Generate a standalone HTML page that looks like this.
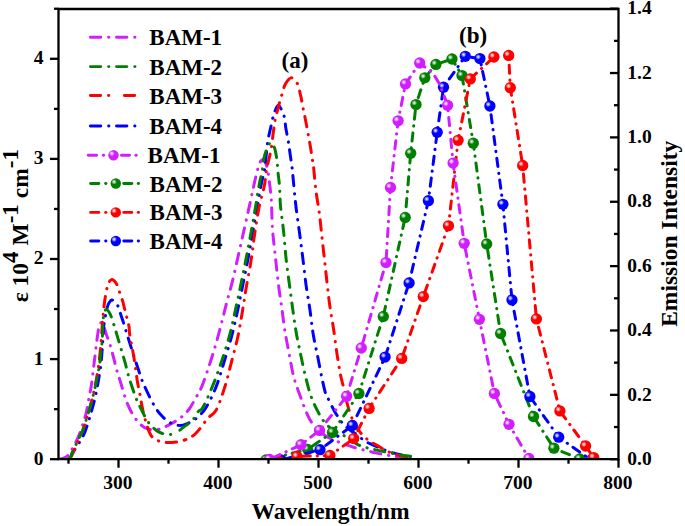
<!DOCTYPE html>
<html><head><meta charset="utf-8"><title>Absorption and emission spectra</title>
<style>html,body{margin:0;padding:0;background:#fff;}svg{display:block;}</style></head>
<body>
<svg width="685" height="526" viewBox="0 0 685 526">
<defs>
<clipPath id="pc"><rect x="58.5" y="9.0" width="560.0" height="450.2"/></clipPath>
<radialGradient id="hl" cx="0.5" cy="0.5" r="0.5"><stop offset="0" stop-color="#fff" stop-opacity="0.95"/><stop offset="0.35" stop-color="#fff" stop-opacity="0.7"/><stop offset="1" stop-color="#fff" stop-opacity="0"/></radialGradient>
</defs>
<rect width="685" height="526" fill="#fff"/>
<g clip-path="url(#pc)" fill="none" stroke-linejoin="round" stroke-linecap="round">
<path id="amag1" d="M58.50,459.40 C60.00,459.03 61.57,458.81 63.00,458.30 C64.40,457.80 65.81,457.36 67.00,456.40 C68.36,455.30 69.39,453.50 70.50,451.80 C71.74,449.90 72.82,447.74 74.00,445.50 C75.32,443.01 76.77,440.27 78.00,437.50 C79.28,434.62 80.42,431.56 81.50,428.50 C82.59,425.39 83.63,421.99 84.50,419.00 C85.27,416.36 85.85,414.38 86.50,411.50 C87.36,407.67 88.17,402.50 89.00,398.00 C89.83,393.50 90.70,389.68 91.50,384.50 C92.57,377.56 93.47,368.29 94.50,360.00 C95.56,351.46 96.67,340.72 97.80,334.00 C98.52,329.70 98.69,325.11 100.00,323.50 C100.63,322.72 101.65,322.22 102.30,322.50 C103.33,322.94 103.85,326.48 104.50,328.40 C105.11,330.20 105.42,331.64 106.10,333.70 C107.07,336.66 108.70,340.59 109.90,344.40 C111.25,348.66 112.52,353.66 113.70,358.10 C114.81,362.28 115.65,366.26 116.80,370.30 C117.95,374.36 119.34,378.28 120.60,382.40 C121.91,386.68 123.04,391.21 124.50,395.50 C125.94,399.74 127.37,404.02 129.30,408.00 C131.21,411.95 133.43,416.00 136.00,419.30 C138.38,422.37 141.26,425.58 144.00,427.30 C146.15,428.65 148.26,429.23 150.60,429.60 C153.11,429.99 155.74,430.05 158.60,429.40" stroke="#D21EFF" stroke-width="3.0" stroke-dasharray="10.4 7.8 0.3 7.6" stroke-dashoffset="0.10"/>
<path id="amag2" d="M158.60,429.40 C162.27,428.56 166.79,426.05 170.60,424.00 C174.32,422.00 178.05,419.87 181.20,417.30 C184.22,414.84 186.80,412.15 189.20,409.00 C191.78,405.61 194.00,400.93 196.00,397.50 C197.61,394.74 198.84,393.12 200.30,390.00 C202.50,385.32 204.82,378.38 207.10,371.80 C209.75,364.13 212.62,355.08 215.10,346.70 C217.55,338.38 219.89,329.39 221.90,321.70 C223.62,315.13 224.84,309.77 226.50,303.40 C228.32,296.40 230.48,289.14 232.40,281.40 C234.52,272.83 236.55,263.27 238.60,254.20 C240.65,245.14 242.77,235.62 244.70,227.00 C246.45,219.20 248.16,211.71 249.70,204.70 C251.07,198.46 252.19,192.83 253.50,187.00 C254.79,181.27 256.13,174.66 257.50,170.00 C258.48,166.65 259.22,163.16 260.50,161.50 C261.24,160.54 262.20,159.66 263.00,159.80" stroke="#D21EFF" stroke-width="3.0" stroke-dasharray="10.4 7.8 0.3 7.6" stroke-dashoffset="17.99"/>
<path id="amag3" d="M263.00,159.80 C264.05,159.99 265.19,162.20 266.00,164.00 C267.14,166.54 267.66,170.43 268.30,174.00 C269.03,178.03 269.50,182.66 270.00,187.00 C270.50,191.33 270.93,194.79 271.30,200.00 C271.85,207.80 271.81,219.86 272.50,229.30 C273.15,238.16 274.23,246.00 275.20,255.00 C276.28,264.97 277.53,277.38 278.70,286.50 C279.60,293.52 280.46,298.44 281.40,305.10 C282.48,312.82 283.47,321.77 284.80,330.10 C286.14,338.47 287.84,347.09 289.40,355.20 C290.87,362.86 292.03,370.55 293.90,377.50 C295.60,383.80 298.01,389.86 299.90,395.20 C301.48,399.66 302.76,403.37 304.40,407.40 C306.06,411.47 307.73,415.92 309.80,419.50 C311.65,422.69 313.56,425.39 316.00,428.00 C318.58,430.75 321.79,433.40 325.00,435.50 C328.13,437.55 331.63,438.99 335.00,440.50 C338.30,441.98 341.77,443.33 345.00,444.50 C347.96,445.57 350.43,446.37 353.60,447.30 C357.45,448.43 362.18,449.65 366.50,450.70 C370.81,451.75 375.17,452.71 379.50,453.60 C383.80,454.48 388.08,455.32 392.40,456.00 C396.72,456.68 401.79,457.22 405.40,457.70 C407.97,458.04 409.80,458.30 412.00,458.60" stroke="#D21EFF" stroke-width="3.0" stroke-dasharray="10.4 7.8 0.3 7.6" stroke-dashoffset="2.65"/>
<path id="ablu1" d="M68.50,459.40 C69.33,458.43 70.21,457.68 71.00,456.50 C72.00,455.01 72.66,452.96 73.80,451.00 C75.21,448.57 77.31,445.90 79.00,443.10 C80.82,440.09 82.80,436.84 84.30,433.50 C85.81,430.14 86.87,426.47 88.00,423.00 C89.10,419.64 89.99,416.56 91.00,413.00 C92.15,408.96 93.41,404.58 94.50,400.00 C95.70,394.96 96.79,389.50 97.80,384.00 C98.87,378.19 99.93,372.25 100.70,366.00 C101.53,359.28 101.95,352.01 102.50,345.00 C103.05,337.98 103.29,329.48 104.00,323.90 C104.47,320.19 105.00,317.88 105.70,314.70 C106.47,311.23 107.13,306.49 108.50,303.90 C109.43,302.13 110.59,300.08 111.90,300.00 C113.47,299.91 115.95,302.81 117.40,305.00 C119.16,307.66 119.94,312.22 121.00,315.30 C121.86,317.80 122.53,319.69 123.30,322.10 C124.16,324.79 124.94,327.59 125.90,330.70 C127.04,334.39 128.44,338.76 129.70,342.80 C130.97,346.86 132.15,350.82 133.50,355.00 C134.94,359.44 136.64,364.34 138.10,368.70 C139.43,372.67 140.46,376.41 141.90,380.10 C143.30,383.71 144.85,386.91 146.60,390.60 C148.60,394.81 150.86,399.87 153.30,404.00 C155.56,407.83 157.73,411.46 160.60,414.60 C163.49,417.76 167.13,421.08 170.60,422.90 C173.60,424.47 176.92,425.49 179.90,425.50 C182.67,425.51 185.35,424.33 187.90,423.30" stroke="#0000FF" stroke-width="3.0" stroke-dasharray="10.4 7.8 0.3 7.6" stroke-dashoffset="24.31"/>
<path id="ablu2" d="M187.90,423.30 C190.45,422.27 192.74,421.17 195.20,419.30 C198.36,416.89 201.77,413.67 204.80,409.40 C208.92,403.59 212.98,394.51 216.20,386.60 C219.47,378.56 221.58,370.06 224.20,361.50 C226.92,352.61 229.88,343.14 232.20,334.20 C234.41,325.69 236.10,317.48 237.90,309.10 C239.70,300.74 241.31,292.36 243.00,284.00 C244.68,275.66 246.42,267.38 248.00,259.00 C249.59,250.55 250.96,242.24 252.50,233.50 C254.13,224.26 255.91,213.88 257.50,205.00 C258.89,197.19 260.19,189.36 261.50,183.00 C262.51,178.09 263.60,175.21 264.50,170.00 C265.82,162.33 266.55,149.03 267.80,141.30 C268.66,136.00 269.63,132.35 270.60,128.00 C271.54,123.79 272.17,119.46 273.50,115.60 C274.75,111.99 276.49,105.57 278.20,105.50" stroke="#0000FF" stroke-width="3.0" stroke-dasharray="10.4 7.8 0.3 7.6" stroke-dashoffset="9.22"/>
<path id="ablu3" d="M278.20,105.50 C279.95,105.43 282.63,111.94 283.90,115.60 C285.22,119.41 285.08,123.80 285.80,128.00 C286.54,132.36 287.57,136.86 288.30,141.30 C289.03,145.73 289.57,150.18 290.20,154.60 C290.83,159.01 291.56,163.29 292.10,167.80 C292.67,172.51 292.96,176.83 293.50,182.30 C294.21,189.44 295.00,198.58 296.00,207.00 C297.05,215.86 298.52,225.35 299.70,234.20 C300.82,242.63 301.86,250.58 302.90,258.90 C303.96,267.38 304.83,276.10 306.00,284.60 C307.16,293.00 308.68,301.25 309.90,309.60 C311.12,317.95 311.93,326.56 313.30,334.70 C314.61,342.50 316.38,349.90 317.90,357.50 C319.42,365.10 320.93,373.68 322.40,380.30 C323.55,385.46 324.59,390.77 325.80,394.00 C326.51,395.89 327.09,396.50 328.00,398.30 C329.53,401.31 332.14,406.87 334.10,410.40 C335.68,413.26 337.12,415.64 338.70,418.00 C340.16,420.18 341.42,422.18 343.20,424.10 C345.14,426.20 347.65,428.20 350.00,430.00 C352.29,431.76 354.77,433.07 357.10,434.80 C359.51,436.59 361.75,439.00 364.20,440.60 C366.47,442.08 368.74,443.05 371.20,444.20 C373.83,445.43 376.75,446.51 379.50,447.70 C382.25,448.88 384.75,450.26 387.70,451.30 C390.97,452.46 394.97,453.38 398.30,454.20 C401.23,454.92 403.86,455.46 406.60,456.00 C409.26,456.52 411.87,456.93 414.50,457.40" stroke="#0000FF" stroke-width="3.0" stroke-dasharray="10.4 7.8 0.3 7.6" stroke-dashoffset="5.80"/>
<path id="ared1" d="M68.50,459.40 C69.33,458.43 70.27,457.60 71.00,456.50 C71.79,455.32 72.25,454.05 73.00,452.50 C74.02,450.40 75.35,447.55 76.50,445.00 C77.68,442.38 78.85,439.71 80.00,437.00 C81.18,434.22 82.43,431.44 83.50,428.50 C84.61,425.44 85.51,422.21 86.50,419.00 C87.51,415.71 88.53,412.46 89.50,409.00 C90.53,405.31 91.54,401.50 92.50,397.50 C93.54,393.19 94.56,388.84 95.50,384.00 C96.58,378.44 97.64,372.24 98.50,366.00 C99.43,359.28 100.12,352.45 100.80,345.00 C101.57,336.57 102.17,325.16 102.80,318.00 C103.22,313.26 103.58,309.75 104.00,306.20 C104.35,303.27 104.66,300.96 105.10,298.20 C105.58,295.21 106.11,291.69 106.80,288.90 C107.38,286.55 107.78,284.12 108.80,282.50 C109.61,281.21 110.78,279.64 111.90,279.60 C113.13,279.55 114.78,281.28 115.90,282.80 C117.41,284.84 118.19,288.40 119.30,291.40 C120.50,294.64 121.89,298.51 122.80,301.60 C123.54,304.11 123.89,306.08 124.50,308.50 C125.18,311.19 125.98,314.12 126.70,317.00 C127.45,319.98 128.40,323.11 128.90,326.10 C129.38,328.94 129.24,331.26 129.70,334.50 C130.33,338.99 131.79,345.37 132.70,350.50 C133.54,355.24 134.27,359.40 135.00,364.20 C135.81,369.49 136.42,375.62 137.30,380.90 C138.10,385.70 139.19,390.24 140.00,394.60 C140.74,398.57 141.18,402.02 142.00,406.00 C142.91,410.42 143.79,415.11 145.30,419.90 C146.99,425.27 148.91,433.02 151.90,436.60 C153.98,439.10 156.37,440.20 159.30,441.20 C162.83,442.41 167.66,442.69 171.90,442.50 C176.29,442.30 181.27,441.36 185.20,439.90" stroke="#FF0000" stroke-width="3.0" stroke-dasharray="10.4 7.8 0.3 7.6" stroke-dashoffset="24.36"/>
<path id="ared2" d="M185.20,439.90 C188.70,438.60 191.73,436.86 194.50,434.60 C197.36,432.26 199.69,428.86 202.00,426.00 C204.16,423.33 205.78,420.41 208.00,418.00 C210.16,415.65 212.92,414.81 215.10,411.70 C218.61,406.70 221.58,396.76 224.20,388.90 C226.90,380.81 228.76,372.35 231.00,363.80 C233.33,354.90 235.97,345.44 237.90,336.50 C239.74,327.99 241.02,319.55 242.40,311.40 C243.71,303.68 244.66,296.67 246.00,288.80 C247.47,280.15 249.46,270.68 250.90,261.60 C252.33,252.55 253.19,243.65 254.60,234.40 C256.07,224.71 257.76,213.56 259.60,204.70 C261.11,197.43 263.33,191.15 264.50,185.00 C265.51,179.69 265.71,174.48 266.50,170.00 C267.15,166.31 267.95,163.33 268.70,160.00 C269.45,156.66 270.30,153.89 271.00,150.00 C271.96,144.65 272.69,136.49 273.50,130.80 C274.15,126.24 274.58,122.42 275.40,118.50 C276.17,114.84 277.37,111.22 278.20,108.00 C278.91,105.27 279.38,102.95 280.10,100.40 C280.84,97.78 281.73,95.18 282.60,92.50 C283.50,89.72 283.95,86.48 285.40,84.00 C286.81,81.60 289.13,77.94 291.10,77.80" stroke="#FF0000" stroke-width="3.0" stroke-dasharray="10.4 7.8 0.3 7.6" stroke-dashoffset="17.77"/>
<path id="ared3" d="M291.10,77.80 C292.94,77.67 295.31,80.24 296.80,82.50 C298.81,85.54 299.55,91.07 300.60,95.40 C301.64,99.68 302.23,103.94 303.10,108.30 C304.00,112.80 305.03,117.55 305.90,122.00 C306.72,126.21 307.43,130.05 308.20,134.30 C309.03,138.86 309.97,144.02 310.70,148.50 C311.35,152.50 311.90,156.88 312.40,159.90 C312.73,161.91 312.98,162.59 313.30,164.90 C314.02,170.01 314.77,181.45 315.80,189.70 C316.83,197.95 318.47,206.37 319.50,214.40 C320.48,222.01 321.08,229.28 321.90,236.70 C322.72,244.11 323.56,251.40 324.40,258.90 C325.26,266.60 326.11,274.55 327.00,282.30 C327.88,289.95 328.64,297.51 329.70,305.10 C330.77,312.71 332.20,319.95 333.40,327.90 C334.71,336.58 335.89,346.76 337.20,355.20 C338.34,362.53 339.42,369.57 340.70,375.70 C341.76,380.75 342.97,384.61 344.10,389.40 C345.34,394.64 346.20,400.44 347.80,405.90 C349.44,411.50 351.37,417.68 353.90,422.60 C356.14,426.97 359.04,431.04 361.80,434.20 C364.08,436.81 366.35,438.73 368.90,440.60 C371.45,442.46 374.46,443.87 377.10,445.40 C379.55,446.82 381.81,448.22 384.20,449.50 C386.55,450.75 388.64,451.98 391.30,453.00 C394.45,454.21 398.31,455.21 402.00,456.00 C405.86,456.83 410.00,457.20 414.00,457.80" stroke="#FF0000" stroke-width="3.0" stroke-dasharray="10.4 7.8 0.3 7.6" stroke-dashoffset="9.55"/>
<path id="agrn1" d="M68.50,459.40 C69.30,458.43 70.32,457.59 70.90,456.50 C71.49,455.39 71.45,454.20 72.00,452.80 C72.79,450.81 74.40,448.13 75.50,445.80 C76.57,443.53 77.40,441.35 78.50,439.00 C79.71,436.41 81.34,433.70 82.50,430.90 C83.68,428.04 84.53,424.98 85.50,422.00 C86.47,419.01 87.38,416.00 88.30,413.00 C89.22,410.00 90.11,407.23 91.00,404.00 C92.02,400.30 93.07,395.92 94.00,392.00 C94.89,388.26 95.70,384.83 96.50,381.00 C97.37,376.85 98.28,372.57 99.00,368.00 C99.80,362.96 100.44,356.95 101.00,352.00 C101.48,347.72 101.88,344.41 102.20,340.00 C102.59,334.61 102.59,326.79 103.00,322.00 C103.27,318.79 103.45,316.21 104.00,314.00 C104.41,312.35 104.78,310.22 105.60,309.80 C106.19,309.50 107.12,309.89 107.80,310.40 C108.82,311.17 109.66,313.01 110.50,314.80 C111.65,317.24 112.66,321.02 113.60,323.90 C114.44,326.49 115.21,329.01 115.90,331.30 C116.49,333.27 116.85,334.58 117.50,336.80 C118.49,340.20 120.03,345.40 121.30,349.70 C122.57,354.00 123.93,358.35 125.10,362.60 C126.23,366.71 127.05,370.78 128.20,374.80 C129.35,378.81 130.64,382.66 132.00,386.70 C133.43,390.95 134.94,395.74 136.60,399.70 C138.07,403.19 139.52,405.86 141.30,409.30 C143.43,413.40 145.61,418.76 148.60,422.60 C151.43,426.24 155.06,429.92 158.60,431.90 C161.59,433.57 165.08,434.31 168.00,434.50 C170.49,434.66 172.73,434.43 175.00,433.50" stroke="#008000" stroke-width="3.0" stroke-dasharray="10.4 7.8 0.3 7.6" stroke-dashoffset="1.30"/>
<path id="agrn2" d="M175.00,433.50 C177.62,432.43 179.88,430.00 182.60,427.90 C185.87,425.37 190.44,422.34 193.20,419.30 C195.51,416.75 196.83,412.96 198.50,411.30 C199.50,410.30 200.32,410.63 201.40,409.40 C204.37,406.00 209.39,393.65 212.80,385.50 C216.23,377.32 219.07,368.89 221.90,360.40 C224.77,351.80 227.59,342.88 229.90,334.20 C232.14,325.78 233.75,317.48 235.60,309.10 C237.45,300.71 239.26,292.27 241.00,283.90 C242.72,275.61 244.37,267.46 246.00,259.10 C247.67,250.57 249.29,242.05 250.90,233.20 C252.59,223.93 254.38,213.61 255.90,204.70 C257.24,196.84 258.41,188.52 259.60,182.50 C260.42,178.34 261.30,175.77 262.00,172.00 C262.80,167.68 263.07,162.12 264.00,158.00 C264.76,154.64 265.71,151.59 266.80,149.00 C267.69,146.89 268.54,143.80 269.80,143.50" stroke="#008000" stroke-width="3.0" stroke-dasharray="10.4 7.8 0.3 7.6" stroke-dashoffset="20.15"/>
<path id="agrn3" d="M269.80,143.50 C270.88,143.24 272.59,144.67 273.60,146.10 C275.19,148.34 275.78,153.02 276.50,157.00 C277.34,161.66 277.48,167.43 278.00,172.40 C278.49,177.08 279.11,181.11 279.50,186.00 C279.95,191.69 279.84,197.75 280.40,204.50 C281.08,212.71 282.65,222.63 283.60,231.70 C284.55,240.76 285.12,250.05 286.10,258.90 C287.03,267.37 288.20,275.35 289.30,283.70 C290.43,292.24 291.61,301.25 292.80,309.60 C293.92,317.45 294.87,324.82 296.20,332.40 C297.54,340.02 299.24,347.81 300.80,355.20 C302.28,362.22 303.61,368.89 305.30,375.70 C307.00,382.56 308.72,389.90 311.00,396.20 C313.06,401.87 315.67,407.33 318.10,411.90 C320.09,415.65 321.74,418.80 324.20,421.80 C326.70,424.85 329.68,427.67 333.00,430.00 C336.47,432.44 340.71,433.70 344.70,436.00 C349.13,438.56 353.92,442.70 358.30,444.80 C361.94,446.54 365.34,447.33 368.90,448.30 C372.41,449.26 376.48,449.97 379.50,450.60 C381.75,451.07 383.15,451.32 385.40,451.80 C388.42,452.45 392.45,453.53 396.00,454.20 C399.52,454.86 403.27,455.39 406.60,455.80 C409.56,456.16 412.20,456.33 415.00,456.60" stroke="#008000" stroke-width="3.0" stroke-dasharray="10.4 7.8 0.3 7.6" stroke-dashoffset="19.95"/>
<path id="egrn1" d="M266.00,460.00 L307.60,449.30 L332.50,432.40 L358.90,393.50 L383.30,316.40 L405.20,217.40 L410.70,153.30 L416.00,104.60 L424.80,77.80 L435.90,64.40 L452.00,59.00" stroke="#008000" stroke-width="3.0" stroke-dasharray="8.2 6.8 0.3 6.7" stroke-dashoffset="17.00"/>
<path id="egrn2" d="M452.00,59.00 L462.00,75.60 L473.30,143.20 L486.70,244.00 L500.60,333.50 L533.50,416.50 L553.90,448.20 L579.80,459.00" stroke="#008000" stroke-width="3.0" stroke-dasharray="8.2 6.8 0.3 6.7" stroke-dashoffset="2.22"/>
<circle cx="266.0" cy="460.0" r="5.65" fill="#008000" stroke="none"/><circle cx="264.3" cy="458.3" r="2.8" fill="url(#hl)"/>
<circle cx="307.6" cy="449.3" r="5.65" fill="#008000" stroke="none"/><circle cx="305.9" cy="447.6" r="2.8" fill="url(#hl)"/>
<circle cx="332.5" cy="432.4" r="5.65" fill="#008000" stroke="none"/><circle cx="330.8" cy="430.7" r="2.8" fill="url(#hl)"/>
<circle cx="358.9" cy="393.5" r="5.65" fill="#008000" stroke="none"/><circle cx="357.2" cy="391.8" r="2.8" fill="url(#hl)"/>
<circle cx="383.3" cy="316.4" r="5.65" fill="#008000" stroke="none"/><circle cx="381.6" cy="314.7" r="2.8" fill="url(#hl)"/>
<circle cx="405.2" cy="217.4" r="5.65" fill="#008000" stroke="none"/><circle cx="403.5" cy="215.7" r="2.8" fill="url(#hl)"/>
<circle cx="410.7" cy="153.3" r="5.65" fill="#008000" stroke="none"/><circle cx="409.0" cy="151.6" r="2.8" fill="url(#hl)"/>
<circle cx="416.0" cy="104.6" r="5.65" fill="#008000" stroke="none"/><circle cx="414.3" cy="102.9" r="2.8" fill="url(#hl)"/>
<circle cx="424.8" cy="77.8" r="5.65" fill="#008000" stroke="none"/><circle cx="423.1" cy="76.1" r="2.8" fill="url(#hl)"/>
<circle cx="435.9" cy="64.4" r="5.65" fill="#008000" stroke="none"/><circle cx="434.2" cy="62.7" r="2.8" fill="url(#hl)"/>
<circle cx="452.0" cy="59.0" r="5.65" fill="#008000" stroke="none"/><circle cx="450.3" cy="57.3" r="2.8" fill="url(#hl)"/>
<circle cx="462.0" cy="75.6" r="5.65" fill="#008000" stroke="none"/><circle cx="460.3" cy="73.9" r="2.8" fill="url(#hl)"/>
<circle cx="473.3" cy="143.2" r="5.65" fill="#008000" stroke="none"/><circle cx="471.6" cy="141.5" r="2.8" fill="url(#hl)"/>
<circle cx="486.7" cy="244.0" r="5.65" fill="#008000" stroke="none"/><circle cx="485.0" cy="242.3" r="2.8" fill="url(#hl)"/>
<circle cx="500.6" cy="333.5" r="5.65" fill="#008000" stroke="none"/><circle cx="498.9" cy="331.8" r="2.8" fill="url(#hl)"/>
<circle cx="533.5" cy="416.5" r="5.65" fill="#008000" stroke="none"/><circle cx="531.8" cy="414.8" r="2.8" fill="url(#hl)"/>
<circle cx="553.9" cy="448.2" r="5.65" fill="#008000" stroke="none"/><circle cx="552.2" cy="446.5" r="2.8" fill="url(#hl)"/>
<circle cx="579.8" cy="459.0" r="5.65" fill="#008000" stroke="none"/><circle cx="578.1" cy="457.3" r="2.8" fill="url(#hl)"/>
<path id="eblu1" d="M281.00,460.00 L320.00,449.70 L352.30,425.50 L385.10,357.10 L409.10,282.90 L428.40,200.70 L437.20,132.30 L443.50,87.20 L465.30,56.30" stroke="#0000FF" stroke-width="3.0" stroke-dasharray="8.2 6.8 0.3 6.7" stroke-dashoffset="18.44"/>
<path id="eblu2" d="M465.30,56.30 L479.90,58.60 L489.90,106.00 L502.90,204.30 L512.00,299.90 L529.90,396.50 L558.70,437.20 L591.00,460.00" stroke="#0000FF" stroke-width="3.0" stroke-dasharray="8.2 6.8 0.3 6.7" stroke-dashoffset="16.05"/>
<circle cx="281.0" cy="460.0" r="5.65" fill="#0000FF" stroke="none"/><circle cx="279.3" cy="458.3" r="2.8" fill="url(#hl)"/>
<circle cx="320.0" cy="449.7" r="5.65" fill="#0000FF" stroke="none"/><circle cx="318.3" cy="448.0" r="2.8" fill="url(#hl)"/>
<circle cx="352.3" cy="425.5" r="5.65" fill="#0000FF" stroke="none"/><circle cx="350.6" cy="423.8" r="2.8" fill="url(#hl)"/>
<circle cx="385.1" cy="357.1" r="5.65" fill="#0000FF" stroke="none"/><circle cx="383.4" cy="355.4" r="2.8" fill="url(#hl)"/>
<circle cx="409.1" cy="282.9" r="5.65" fill="#0000FF" stroke="none"/><circle cx="407.4" cy="281.2" r="2.8" fill="url(#hl)"/>
<circle cx="428.4" cy="200.7" r="5.65" fill="#0000FF" stroke="none"/><circle cx="426.7" cy="199.0" r="2.8" fill="url(#hl)"/>
<circle cx="437.2" cy="132.3" r="5.65" fill="#0000FF" stroke="none"/><circle cx="435.5" cy="130.6" r="2.8" fill="url(#hl)"/>
<circle cx="443.5" cy="87.2" r="5.65" fill="#0000FF" stroke="none"/><circle cx="441.8" cy="85.5" r="2.8" fill="url(#hl)"/>
<circle cx="465.3" cy="56.3" r="5.65" fill="#0000FF" stroke="none"/><circle cx="463.6" cy="54.6" r="2.8" fill="url(#hl)"/>
<circle cx="479.9" cy="58.6" r="5.65" fill="#0000FF" stroke="none"/><circle cx="478.2" cy="56.9" r="2.8" fill="url(#hl)"/>
<circle cx="489.9" cy="106.0" r="5.65" fill="#0000FF" stroke="none"/><circle cx="488.2" cy="104.3" r="2.8" fill="url(#hl)"/>
<circle cx="502.9" cy="204.3" r="5.65" fill="#0000FF" stroke="none"/><circle cx="501.2" cy="202.6" r="2.8" fill="url(#hl)"/>
<circle cx="512.0" cy="299.9" r="5.65" fill="#0000FF" stroke="none"/><circle cx="510.3" cy="298.2" r="2.8" fill="url(#hl)"/>
<circle cx="529.9" cy="396.5" r="5.65" fill="#0000FF" stroke="none"/><circle cx="528.2" cy="394.8" r="2.8" fill="url(#hl)"/>
<circle cx="558.7" cy="437.2" r="5.65" fill="#0000FF" stroke="none"/><circle cx="557.0" cy="435.5" r="2.8" fill="url(#hl)"/>
<circle cx="591.0" cy="460.0" r="5.65" fill="#0000FF" stroke="none"/><circle cx="589.3" cy="458.3" r="2.8" fill="url(#hl)"/>
<path id="ered1" d="M280.00,462.00 L297.00,456.50 L329.90,455.50 L353.70,438.60 L369.10,408.40 L401.70,358.40 L423.30,296.60 L448.50,225.80 L458.10,140.30 L470.30,78.90 L493.90,57.00" stroke="#FF0000" stroke-width="3.0" stroke-dasharray="8.2 6.8 0.3 6.7" stroke-dashoffset="21.00"/>
<path id="ered2" d="M508.70,55.40 L510.30,87.70 L522.70,165.50 L536.40,318.90 L559.90,410.90 L585.60,446.00 L593.70,457.60" stroke="#FF0000" stroke-width="3.0" stroke-dasharray="8.2 6.8 0.3 6.7" stroke-dashoffset="12.25"/>
<circle cx="280.0" cy="462.0" r="5.65" fill="#FF0000" stroke="none"/><circle cx="278.3" cy="460.3" r="2.8" fill="url(#hl)"/>
<circle cx="297.0" cy="456.5" r="5.65" fill="#FF0000" stroke="none"/><circle cx="295.3" cy="454.8" r="2.8" fill="url(#hl)"/>
<circle cx="329.9" cy="455.5" r="5.65" fill="#FF0000" stroke="none"/><circle cx="328.2" cy="453.8" r="2.8" fill="url(#hl)"/>
<circle cx="353.7" cy="438.6" r="5.65" fill="#FF0000" stroke="none"/><circle cx="352.0" cy="436.9" r="2.8" fill="url(#hl)"/>
<circle cx="369.1" cy="408.4" r="5.65" fill="#FF0000" stroke="none"/><circle cx="367.4" cy="406.7" r="2.8" fill="url(#hl)"/>
<circle cx="401.7" cy="358.4" r="5.65" fill="#FF0000" stroke="none"/><circle cx="400.0" cy="356.7" r="2.8" fill="url(#hl)"/>
<circle cx="423.3" cy="296.6" r="5.65" fill="#FF0000" stroke="none"/><circle cx="421.6" cy="294.9" r="2.8" fill="url(#hl)"/>
<circle cx="448.5" cy="225.8" r="5.65" fill="#FF0000" stroke="none"/><circle cx="446.8" cy="224.1" r="2.8" fill="url(#hl)"/>
<circle cx="458.1" cy="140.3" r="5.65" fill="#FF0000" stroke="none"/><circle cx="456.4" cy="138.6" r="2.8" fill="url(#hl)"/>
<circle cx="470.3" cy="78.9" r="5.65" fill="#FF0000" stroke="none"/><circle cx="468.6" cy="77.2" r="2.8" fill="url(#hl)"/>
<circle cx="493.9" cy="57.0" r="5.65" fill="#FF0000" stroke="none"/><circle cx="492.2" cy="55.3" r="2.8" fill="url(#hl)"/>
<circle cx="508.7" cy="55.4" r="5.65" fill="#FF0000" stroke="none"/><circle cx="507.0" cy="53.7" r="2.8" fill="url(#hl)"/>
<circle cx="510.3" cy="87.7" r="5.65" fill="#FF0000" stroke="none"/><circle cx="508.6" cy="86.0" r="2.8" fill="url(#hl)"/>
<circle cx="522.7" cy="165.5" r="5.65" fill="#FF0000" stroke="none"/><circle cx="521.0" cy="163.8" r="2.8" fill="url(#hl)"/>
<circle cx="536.4" cy="318.9" r="5.65" fill="#FF0000" stroke="none"/><circle cx="534.7" cy="317.2" r="2.8" fill="url(#hl)"/>
<circle cx="559.9" cy="410.9" r="5.65" fill="#FF0000" stroke="none"/><circle cx="558.2" cy="409.2" r="2.8" fill="url(#hl)"/>
<circle cx="585.6" cy="446.0" r="5.65" fill="#FF0000" stroke="none"/><circle cx="583.9" cy="444.3" r="2.8" fill="url(#hl)"/>
<circle cx="593.7" cy="457.6" r="5.65" fill="#FF0000" stroke="none"/><circle cx="592.0" cy="455.9" r="2.8" fill="url(#hl)"/>
<path id="emag1" d="M269.50,459.50 L301.00,444.70 L319.50,430.40 L346.60,396.30 L361.30,348.00 L386.00,262.60 L390.50,187.50 L398.10,120.80 L405.50,83.90 L419.70,63.00" stroke="#D21EFF" stroke-width="3.0" stroke-dasharray="8.2 6.8 0.3 6.7" stroke-dashoffset="18.83"/>
<path id="emag2" d="M419.70,63.00 L433.20,73.50 L440.00,85.00 L447.60,105.30 L453.10,163.10 L464.20,243.30 L479.40,319.30 L494.40,393.50 L509.00,424.30 L528.90,458.50" stroke="#D21EFF" stroke-width="3.0" stroke-dasharray="8.2 6.8 0.3 6.7" stroke-dashoffset="1.65"/>
<circle cx="269.5" cy="459.5" r="5.65" fill="#D21EFF" stroke="none"/><circle cx="267.8" cy="457.8" r="2.8" fill="url(#hl)"/>
<circle cx="301.0" cy="444.7" r="5.65" fill="#D21EFF" stroke="none"/><circle cx="299.3" cy="443.0" r="2.8" fill="url(#hl)"/>
<circle cx="319.5" cy="430.4" r="5.65" fill="#D21EFF" stroke="none"/><circle cx="317.8" cy="428.7" r="2.8" fill="url(#hl)"/>
<circle cx="346.6" cy="396.3" r="5.65" fill="#D21EFF" stroke="none"/><circle cx="344.9" cy="394.6" r="2.8" fill="url(#hl)"/>
<circle cx="361.3" cy="348.0" r="5.65" fill="#D21EFF" stroke="none"/><circle cx="359.6" cy="346.3" r="2.8" fill="url(#hl)"/>
<circle cx="386.0" cy="262.6" r="5.65" fill="#D21EFF" stroke="none"/><circle cx="384.3" cy="260.9" r="2.8" fill="url(#hl)"/>
<circle cx="390.5" cy="187.5" r="5.65" fill="#D21EFF" stroke="none"/><circle cx="388.8" cy="185.8" r="2.8" fill="url(#hl)"/>
<circle cx="398.1" cy="120.8" r="5.65" fill="#D21EFF" stroke="none"/><circle cx="396.4" cy="119.1" r="2.8" fill="url(#hl)"/>
<circle cx="405.5" cy="83.9" r="5.65" fill="#D21EFF" stroke="none"/><circle cx="403.8" cy="82.2" r="2.8" fill="url(#hl)"/>
<circle cx="419.7" cy="63.0" r="5.65" fill="#D21EFF" stroke="none"/><circle cx="418.0" cy="61.3" r="2.8" fill="url(#hl)"/>
<circle cx="447.6" cy="105.3" r="5.65" fill="#D21EFF" stroke="none"/><circle cx="445.9" cy="103.6" r="2.8" fill="url(#hl)"/>
<circle cx="453.1" cy="163.1" r="5.65" fill="#D21EFF" stroke="none"/><circle cx="451.4" cy="161.4" r="2.8" fill="url(#hl)"/>
<circle cx="464.2" cy="243.3" r="5.65" fill="#D21EFF" stroke="none"/><circle cx="462.5" cy="241.6" r="2.8" fill="url(#hl)"/>
<circle cx="479.4" cy="319.3" r="5.65" fill="#D21EFF" stroke="none"/><circle cx="477.7" cy="317.6" r="2.8" fill="url(#hl)"/>
<circle cx="494.4" cy="393.5" r="5.65" fill="#D21EFF" stroke="none"/><circle cx="492.7" cy="391.8" r="2.8" fill="url(#hl)"/>
<circle cx="509.0" cy="424.3" r="5.65" fill="#D21EFF" stroke="none"/><circle cx="507.3" cy="422.6" r="2.8" fill="url(#hl)"/>
<circle cx="528.9" cy="458.5" r="5.65" fill="#D21EFF" stroke="none"/><circle cx="527.2" cy="456.8" r="2.8" fill="url(#hl)"/>
</g>
<g stroke="#000" stroke-width="2.3" fill="none" stroke-linecap="butt">
<path d="M58.5,9.0 H618.5 V459.2 H58.5 Z" stroke-linejoin="miter"/>
<line x1="50.0" y1="459.20" x2="58.5" y2="459.20"/>
<line x1="54.0" y1="409.15" x2="58.5" y2="409.15"/>
<line x1="50.0" y1="359.10" x2="58.5" y2="359.10"/>
<line x1="54.0" y1="309.05" x2="58.5" y2="309.05"/>
<line x1="50.0" y1="259.00" x2="58.5" y2="259.00"/>
<line x1="54.0" y1="208.95" x2="58.5" y2="208.95"/>
<line x1="50.0" y1="158.90" x2="58.5" y2="158.90"/>
<line x1="54.0" y1="108.85" x2="58.5" y2="108.85"/>
<line x1="50.0" y1="58.80" x2="58.5" y2="58.80"/>
<line x1="54.0" y1="8.75" x2="58.5" y2="8.75"/>
<line x1="68.50" y1="459.2" x2="68.50" y2="463.7"/>
<line x1="118.50" y1="459.2" x2="118.50" y2="467.7"/>
<line x1="168.50" y1="459.2" x2="168.50" y2="463.7"/>
<line x1="218.50" y1="459.2" x2="218.50" y2="467.7"/>
<line x1="268.50" y1="459.2" x2="268.50" y2="463.7"/>
<line x1="318.50" y1="459.2" x2="318.50" y2="467.7"/>
<line x1="368.50" y1="459.2" x2="368.50" y2="463.7"/>
<line x1="418.50" y1="459.2" x2="418.50" y2="467.7"/>
<line x1="468.50" y1="459.2" x2="468.50" y2="463.7"/>
<line x1="518.50" y1="459.2" x2="518.50" y2="467.7"/>
<line x1="568.50" y1="459.2" x2="568.50" y2="463.7"/>
<line x1="618.50" y1="459.2" x2="618.50" y2="467.7"/>
<line x1="610.0" y1="459.20" x2="618.5" y2="459.20"/>
<line x1="614.0" y1="427.02" x2="618.5" y2="427.02"/>
<line x1="610.0" y1="394.84" x2="618.5" y2="394.84"/>
<line x1="614.0" y1="362.66" x2="618.5" y2="362.66"/>
<line x1="610.0" y1="330.48" x2="618.5" y2="330.48"/>
<line x1="614.0" y1="298.30" x2="618.5" y2="298.30"/>
<line x1="610.0" y1="266.12" x2="618.5" y2="266.12"/>
<line x1="614.0" y1="233.94" x2="618.5" y2="233.94"/>
<line x1="610.0" y1="201.76" x2="618.5" y2="201.76"/>
<line x1="614.0" y1="169.58" x2="618.5" y2="169.58"/>
<line x1="610.0" y1="137.40" x2="618.5" y2="137.40"/>
<line x1="614.0" y1="105.22" x2="618.5" y2="105.22"/>
<line x1="610.0" y1="73.04" x2="618.5" y2="73.04"/>
<line x1="614.0" y1="40.86" x2="618.5" y2="40.86"/>
<line x1="610.0" y1="8.68" x2="618.5" y2="8.68"/>
</g>
<g font-family="'Liberation Serif', serif" font-weight="bold" font-size="19.5" fill="#000">
<text x="43.5" y="464.60" text-anchor="end">0</text>
<text x="43.5" y="364.50" text-anchor="end">1</text>
<text x="43.5" y="264.40" text-anchor="end">2</text>
<text x="43.5" y="164.30" text-anchor="end">3</text>
<text x="43.5" y="64.20" text-anchor="end">4</text>
<text x="117.80" y="489.3" text-anchor="middle">300</text>
<text x="217.80" y="489.3" text-anchor="middle">400</text>
<text x="317.80" y="489.3" text-anchor="middle">500</text>
<text x="417.80" y="489.3" text-anchor="middle">600</text>
<text x="517.80" y="489.3" text-anchor="middle">700</text>
<text x="617.80" y="489.3" text-anchor="middle">800</text>
<text x="627.3" y="464.90">0.0</text>
<text x="627.3" y="400.54">0.2</text>
<text x="627.3" y="336.18">0.4</text>
<text x="627.3" y="271.82">0.6</text>
<text x="627.3" y="207.46">0.8</text>
<text x="627.3" y="143.10">1.0</text>
<text x="627.3" y="78.74">1.2</text>
<text x="627.3" y="14.38">1.4</text>
</g>
<text font-family="'Liberation Serif', serif" font-weight="bold" font-size="23.5" x="330.5" y="519.4" text-anchor="middle">Wavelength/nm</text>
<text font-family="'Liberation Serif', serif" font-weight="bold" font-size="23.5" transform="translate(677.2,326.8) rotate(-90)">Emission Intensity</text>
<text font-family="'Liberation Serif', serif" font-weight="bold" font-size="23.5" transform="translate(28.2,302.3) rotate(-90)">ε 10<tspan dy="-10.5" font-size="23">4</tspan><tspan dy="10.5"> M</tspan><tspan dy="-10.5" font-size="23">-1</tspan><tspan dy="10.5"> cm</tspan><tspan dy="-10.5" font-size="23">-1</tspan></text>
<text font-family="'Liberation Serif', serif" font-weight="bold" font-size="23" x="281.5" y="67.5">(a)</text>
<text font-family="'Liberation Serif', serif" font-weight="bold" font-size="23" x="459" y="43">(b)</text>
<line x1="90.4" y1="37.3" x2="135.7" y2="37.3" stroke="#D21EFF" stroke-width="2.9" stroke-linecap="round" stroke-dasharray="10.4 7.8 0.3 7.6"/>
<text font-family="'Liberation Serif', serif" font-weight="bold" font-size="23" x="149.3" y="45.3">BAM-1</text>
<line x1="90.4" y1="66.6" x2="135.7" y2="66.6" stroke="#008000" stroke-width="2.9" stroke-linecap="round" stroke-dasharray="10.4 7.8 0.3 7.6"/>
<text font-family="'Liberation Serif', serif" font-weight="bold" font-size="23" x="149.3" y="74.6">BAM-2</text>
<line x1="90.4" y1="95.5" x2="142.2" y2="95.5" stroke="#FF0000" stroke-width="2.9" stroke-linecap="round" stroke-dasharray="10.3 7.8 0.3 15.6"/>
<text font-family="'Liberation Serif', serif" font-weight="bold" font-size="23" x="149.3" y="103.5">BAM-3</text>
<line x1="90.4" y1="126" x2="135.7" y2="126" stroke="#0000FF" stroke-width="2.9" stroke-linecap="round" stroke-dasharray="10.4 7.8 0.3 7.6"/>
<text font-family="'Liberation Serif', serif" font-weight="bold" font-size="23" x="149.3" y="134.0">BAM-4</text>
<g stroke="#D21EFF" stroke-width="2.9" stroke-linecap="round">
<line x1="88.35000000000001" y1="155.2" x2="96.55000000000001" y2="155.2"/>
<line x1="103.35000000000001" y1="155.2" x2="103.65" y2="155.2"/>
<line x1="121.45" y1="155.2" x2="129.55" y2="155.2"/>
<line x1="135.95" y1="155.2" x2="136.25" y2="155.2"/>
</g>
<circle cx="113.5" cy="155.2" r="5.2" fill="#D21EFF"/><circle cx="111.8" cy="153.5" r="2.8" fill="url(#hl)"/>
<text font-family="'Liberation Serif', serif" font-weight="bold" font-size="23" x="147.6" y="163.2">BAM-1</text>
<g stroke="#008000" stroke-width="2.9" stroke-linecap="round">
<line x1="90.65" y1="183.5" x2="98.85000000000001" y2="183.5"/>
<line x1="105.65" y1="183.5" x2="105.95" y2="183.5"/>
<line x1="123.75" y1="183.5" x2="131.85" y2="183.5"/>
<line x1="138.25" y1="183.5" x2="138.55" y2="183.5"/>
</g>
<circle cx="115.80000000000001" cy="183.5" r="5.2" fill="#008000"/><circle cx="114.1" cy="181.8" r="2.8" fill="url(#hl)"/>
<text font-family="'Liberation Serif', serif" font-weight="bold" font-size="23" x="149.6" y="191.5">BAM-2</text>
<g stroke="#FF0000" stroke-width="2.9" stroke-linecap="round">
<line x1="90.65" y1="212.4" x2="98.85000000000001" y2="212.4"/>
<line x1="105.65" y1="212.4" x2="105.95" y2="212.4"/>
<line x1="123.75" y1="212.4" x2="131.85" y2="212.4"/>
<line x1="138.25" y1="212.4" x2="138.55" y2="212.4"/>
</g>
<circle cx="115.80000000000001" cy="212.4" r="5.2" fill="#FF0000"/><circle cx="114.1" cy="210.7" r="2.8" fill="url(#hl)"/>
<text font-family="'Liberation Serif', serif" font-weight="bold" font-size="23" x="149.6" y="220.4">BAM-3</text>
<g stroke="#0000FF" stroke-width="2.9" stroke-linecap="round">
<line x1="90.65" y1="241" x2="98.85000000000001" y2="241"/>
<line x1="105.65" y1="241" x2="105.95" y2="241"/>
<line x1="123.75" y1="241" x2="131.85" y2="241"/>
<line x1="138.25" y1="241" x2="138.55" y2="241"/>
</g>
<circle cx="115.80000000000001" cy="241" r="5.2" fill="#0000FF"/><circle cx="114.1" cy="239.3" r="2.8" fill="url(#hl)"/>
<text font-family="'Liberation Serif', serif" font-weight="bold" font-size="23" x="149.6" y="249.0">BAM-4</text>
</svg>
</body></html>
